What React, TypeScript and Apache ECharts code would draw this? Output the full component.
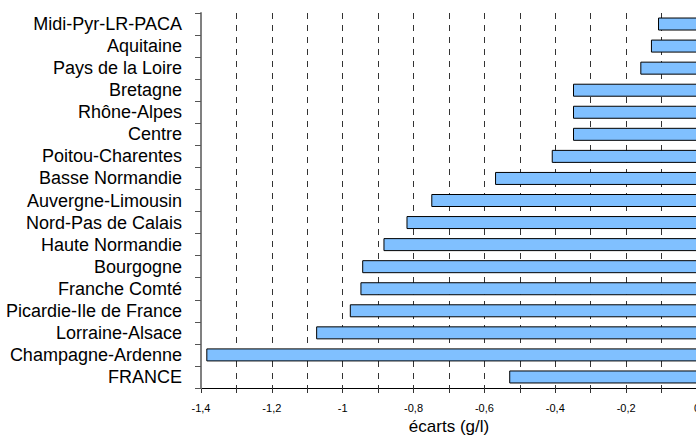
import React, { useEffect, useRef } from "react";
import * as echarts from "echarts";

const categories = [
  "Midi-Pyr-LR-PACA",
  "Aquitaine",
  "Pays de la Loire",
  "Bretagne",
  "Rhône-Alpes",
  "Centre",
  "Poitou-Charentes",
  "Basse Normandie",
  "Auvergne-Limousin",
  "Nord-Pas de Calais",
  "Haute Normandie",
  "Bourgogne",
  "Franche Comté",
  "Picardie-Ile de France",
  "Lorraine-Alsace",
  "Champagne-Ardenne",
  "FRANCE",
];

const ecarts = [
  -0.11, -0.13, -0.16, -0.35, -0.35, -0.35, -0.41, -0.57, -0.75, -0.82, -0.885,
  -0.945, -0.95, -0.98, -1.075, -1.385, -0.53,
];

const axisName = "écarts (g/l)";

export default function App() {
  const ref = useRef<HTMLDivElement>(null);
  useEffect(() => {
    if (!ref.current) return;
    const chart = echarts.init(ref.current, null, { renderer: "svg" });
    const font = "'Liberation Sans', Arial, sans-serif";
    chart.setOption({
      animation: false,
      backgroundColor: "#fff",
      textStyle: { fontFamily: font },
      grid: {
        left: 201,
        right: -1,
        top: 13,
        bottom: 47,
        containLabel: false,
        outerBoundsMode: "none",
      },
      xAxis: {
        type: "value",
        min: -1.4,
        max: 0,
        interval: 0.1,
        name: axisName,
        nameLocation: "middle",
        nameGap: 26,
        nameTextStyle: { fontSize: 17, color: "#000", fontFamily: font },
        axisLine: { show: true, onZero: false, lineStyle: { color: "#000", width: 1 } },
        axisTick: { show: true, length: 5, lineStyle: { color: "#333" } },
        axisLabel: {
          margin: 14,
          fontSize: 11,
          color: "#000",
          fontFamily: font,
          showMinLabel: true,
          showMaxLabel: true,
          hideOverlap: false,
          formatter: (v: number) => {
            const t = Math.round(v * 10);
            if (t % 2 !== 0) return "";
            return String(t / 10).replace(".", ",");
          },
        },
        splitLine: {
          show: true,
          lineStyle: { color: "#333", type: [6, 6], width: 1 },
        },
      },
      yAxis: {
        type: "category",
        data: categories,
        inverse: true,
        z: 4,
        axisLine: { show: true, onZero: false, lineStyle: { color: "#808080", width: 2 } },
        axisTick: { show: true, length: 6, lineStyle: { color: "#555" } },
        axisLabel: { interval: 0, margin: 19, fontSize: 18, color: "#000", fontFamily: font },
        splitLine: { show: false },
      },
      series: [
        {
          type: "bar",
          data: ecarts,
          barWidth: 13,
          itemStyle: { color: "#80C0FF", borderColor: "#000", borderWidth: 1 },
          z: 3,
        },
      ],
    });
    return () => chart.dispose();
  }, []);
  return (
    <div
      ref={ref}
      style={{ position: "fixed", left: 0, top: 0, width: 696, height: 435 }}
    />
  );
}
